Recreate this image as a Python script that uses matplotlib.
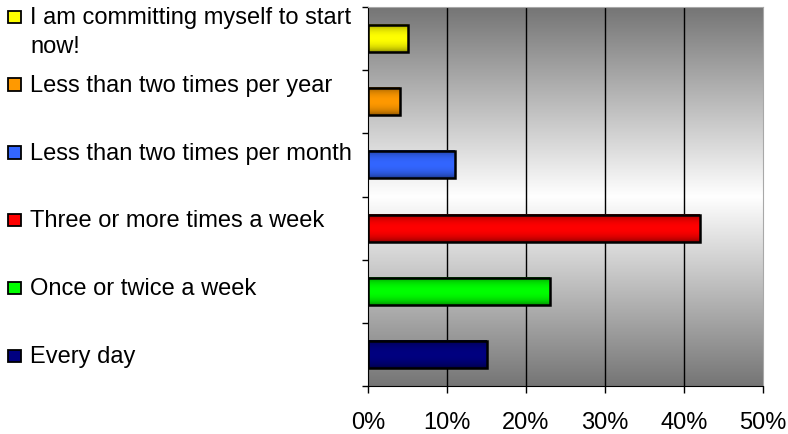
import numpy as np
import matplotlib
matplotlib.use('Agg')
import matplotlib.pyplot as plt
from matplotlib.patches import Rectangle
from matplotlib.colors import to_rgb

plt.rcParams['font.family'] = ['Liberation Sans', 'DejaVu Sans']

# categories bottom to top
categories = ['Every day', 'Once or twice a week', 'Three or more times a week',
              'Less than two times per month', 'Less than two times per year',
              'I am committing myself to start\nnow!']
values = [15, 23, 42, 11, 4, 5]
colors = ['#000080', '#00FF00', '#FF0000', '#3366FF', '#FF9900', '#FFFF00']
xticks = [0, 10, 20, 30, 40, 50]
xlabels = ['0%', '10%', '20%', '30%', '40%', '50%']

W, H = 788, 435
FS = 17
fig = plt.figure(figsize=(W / 100, H / 100), dpi=100)
ax = fig.add_axes([368 / W, 1 - 387 / H, (763 - 368) / W, (387 - 8) / H])

n = len(categories)
ax.set_xlim(0, 50)
ax.set_ylim(-0.5, n - 0.5)

# background: gray at top/bottom, white in the middle
t = np.linspace(0, 1, 256)
g = 1 - 0.54 * np.abs(2 * t - 1)
bg = np.repeat(g[:, None, None], 3, axis=2)
ax.imshow(bg, extent=[0, 50, -0.5, n - 0.5], aspect='auto', origin='lower',
          interpolation='bilinear', zorder=0)

# grid lines
ax.vlines(xticks[1:-1], -0.5, n - 0.5, color='black', lw=1, zorder=1)

# bars with a little 3D shading
h = 0.43
y = np.arange(n)
bars = ax.barh(y, values, height=h, facecolor='none', edgecolor='black',
               lw=1.8, zorder=3)
shade = 0.45 + 0.55 * np.sin(np.pi * t) ** 0.5
for b, v, c in zip(bars, values, colors):
    rgb = np.array(to_rgb(c))
    img = (shade[:, None] * rgb[None, :]).reshape(-1, 1, 3)
    yy = b.get_y()
    ax.imshow(img, extent=[0, v, yy, yy + h], aspect='auto', origin='lower',
              interpolation='bilinear', zorder=2)

ax.set_xticks(xticks)
ax.set_xticklabels(xlabels, fontsize=FS)
ax.set_yticks(np.arange(n + 1) - 0.5)
ax.set_yticklabels([])
ax.tick_params(axis='x', length=5, width=1, pad=13)
ax.tick_params(axis='y', length=4, width=1)
for s in ['top', 'right']:
    ax.spines[s].set_color('#a8a8a8')
for s in ['left', 'bottom']:
    ax.spines[s].set_color('black')

# legend drawn by hand on the left
for i, (lab, c) in enumerate(zip(categories[::-1], colors[::-1])):
    base = 24 + 67.8 * i
    fig.add_artist(Rectangle((8 / W, 1 - base / H), 13 / W, 12.5 / H,
                             transform=fig.transFigure, facecolor=c,
                             edgecolor='black', lw=1.3))
    for k, line in enumerate(lab.split('\n')):
        fig.text(30 / W, 1 - (base + 29 * k) / H, line, fontsize=FS,
                 va='baseline', ha='left')

fig.savefig('out.png', dpi=100)
